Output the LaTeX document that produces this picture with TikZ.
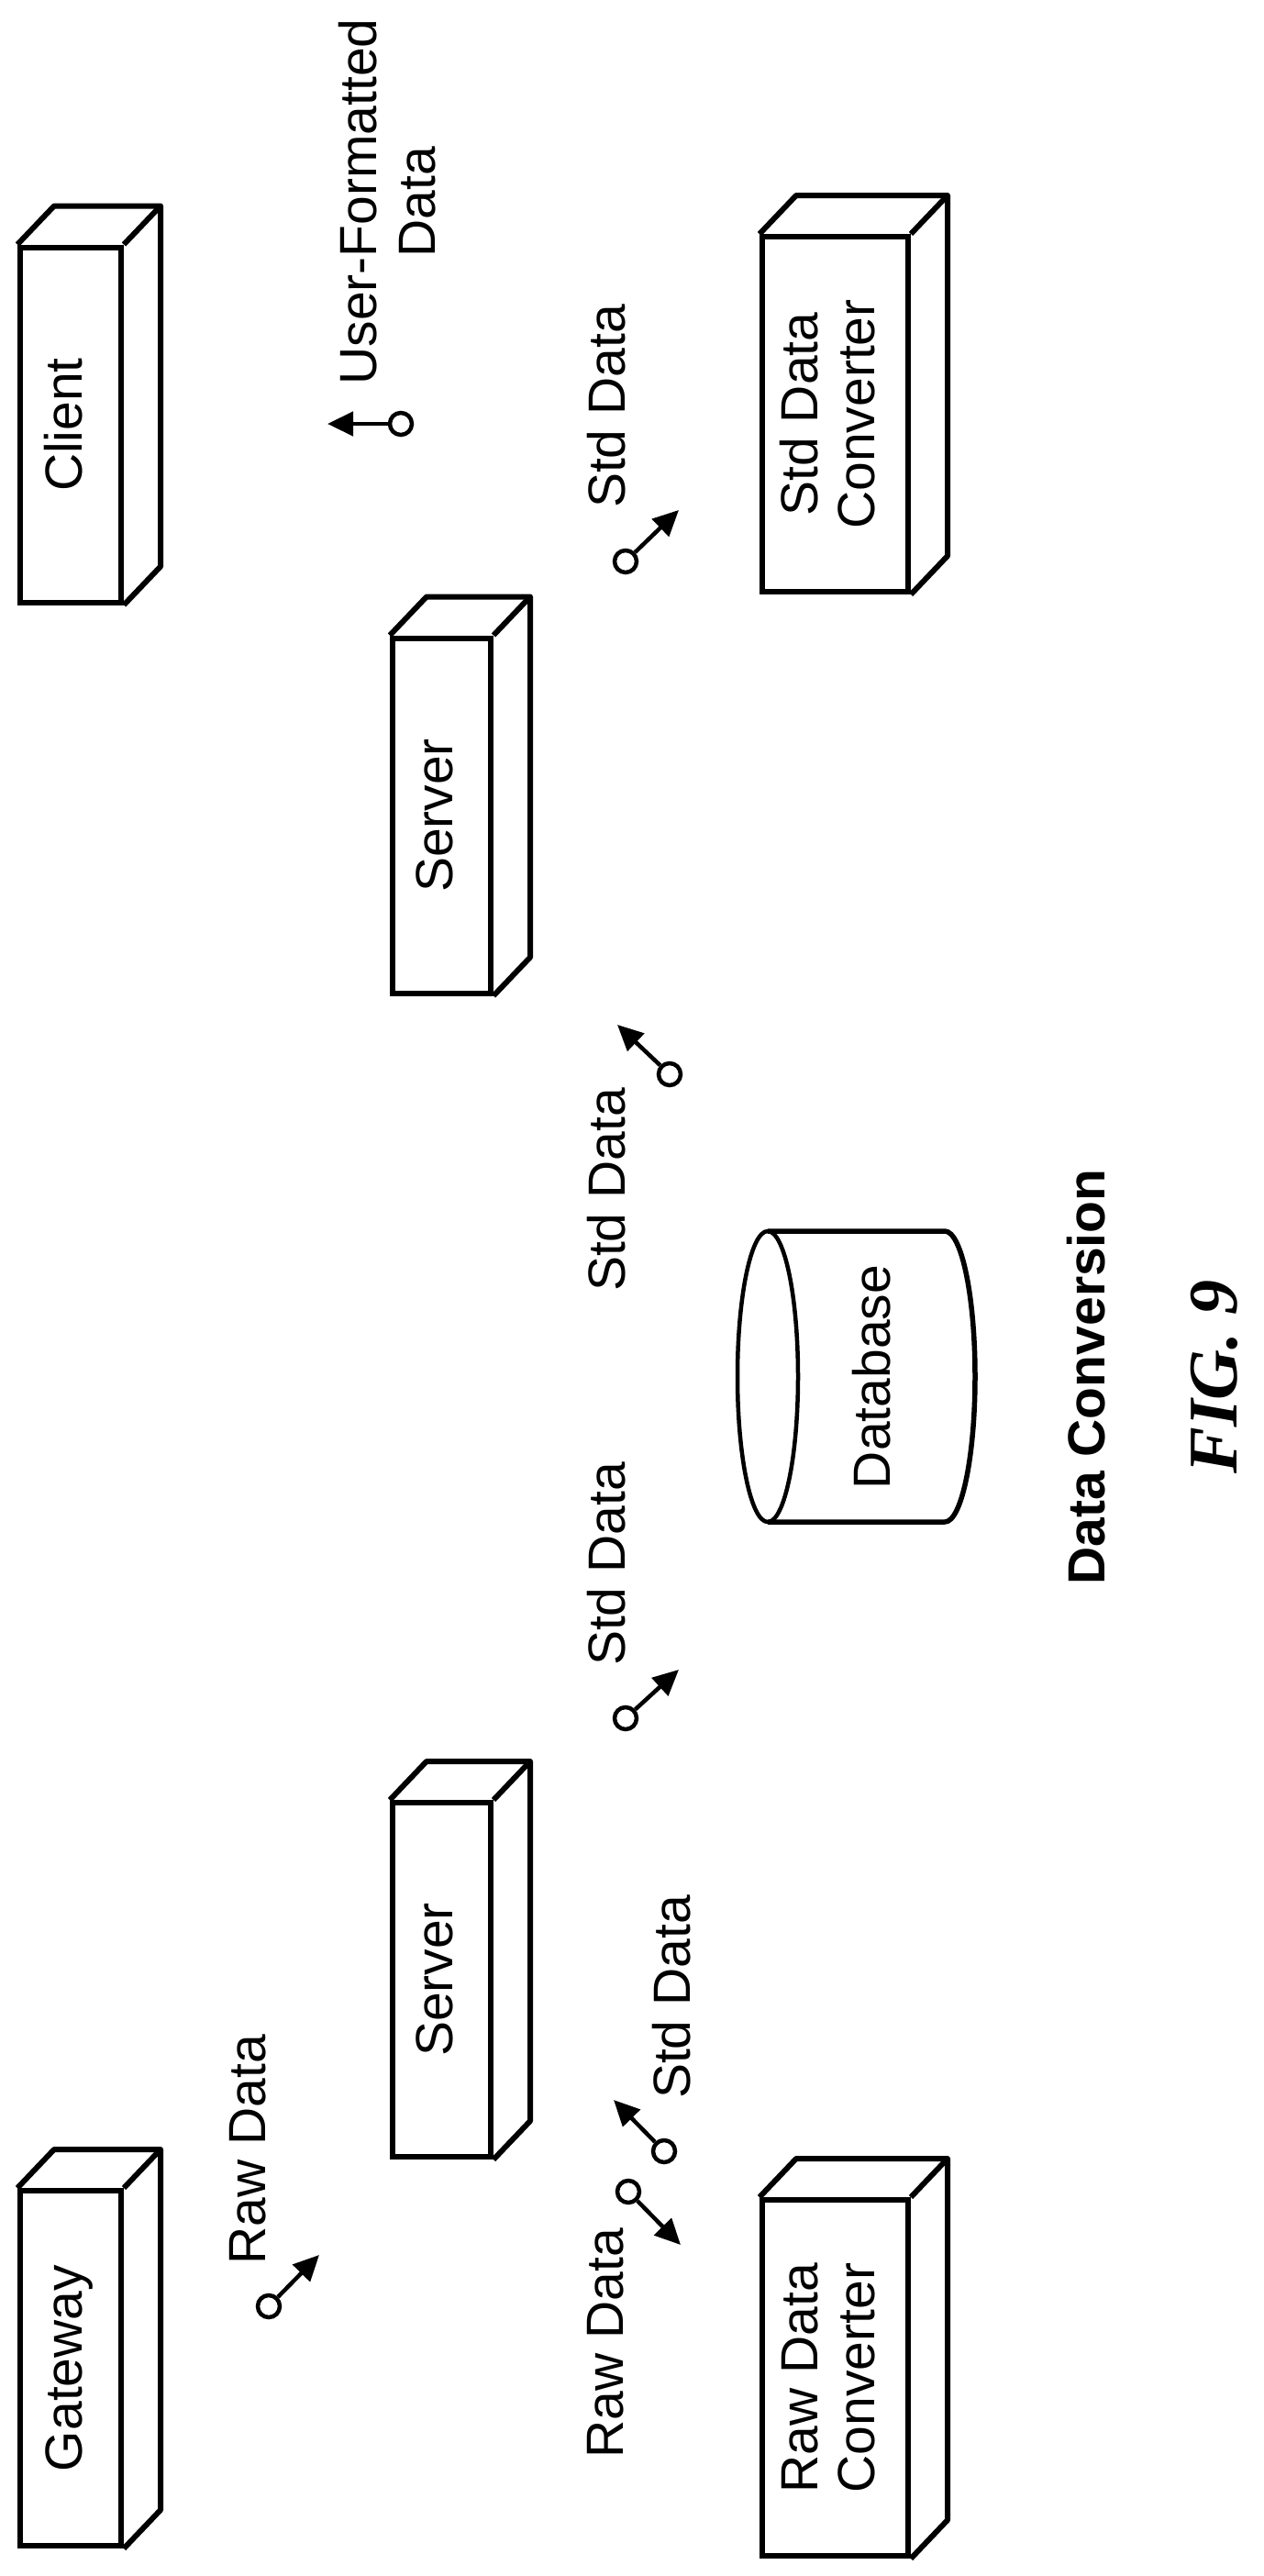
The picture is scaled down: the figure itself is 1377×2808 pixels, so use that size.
\documentclass[tikz,border=0pt]{standalone}
\usepackage{fontspec}
\usepackage{graphicx}
\setmainfont{Liberation Sans}
\newfontfamily\figfont{Liberation Serif}
\usetikzlibrary{calc,arrows.meta}
\tikzset{
  box/.style={draw,line width=6pt,fill=white,inner sep=0pt,font=\fontsize{57}{62}\selectfont},
  side/.style={draw,line width=6pt,line join=round},
  port/.style={circle,draw,line width=4.5pt,minimum size=24pt,inner sep=0pt},
  conn/.style={line width=4.5pt,-{Triangle[length=28pt,width=26pt]}},
  lbl/.style={inner sep=0pt,font=\fontsize{57}{64}\selectfont},
}
\newcommand{\threed}[1]{%
  \draw[side] (#1.north west) -- ++(40,-42) -- ($(#1.north east)+(40,-42)$) -- ($(#1.south east)+(40,-42)$) -- (#1.south east);
  \draw[side] (#1.north east) -- ++(40,-42);}
\newcommand{\rt}[1]{\rotatebox{90}{\begin{tabular}{@{}c@{}}#1\end{tabular}}}
\begin{document}
\begin{tikzpicture}[x=1pt,y=-1pt]
\useasboundingbox (0,0) rectangle (1377,2808);
% boxes
\node[box,minimum width=110pt,minimum height=387pt] (client) at (77,463) {\rt{Client}};
\node[box,minimum width=107pt,minimum height=387pt] (server1) at (481.5,889) {\rt{Server}};
\node[box,minimum width=107pt,minimum height=386pt] (server2) at (481.5,2158) {\rt{Server}};
\node[box,minimum width=110pt,minimum height=387pt] (gateway) at (77,2581.5) {\rt{Gateway}};
\node[box,minimum width=159pt,minimum height=387pt] (stdconv) at (910.5,451.5) {\rt{Std Data\\Converter}};
\node[box,minimum width=159pt,minimum height=388pt] (rawconv) at (910.5,2592) {\rt{Raw Data\\Converter}};
\foreach \n in {client,server1,server2,gateway,stdconv,rawconv} {\threed{\n}}
% database
\draw[line width=5.5pt,line join=round] (837,1342) -- (1030,1342) arc[start angle=-90,end angle=90,x radius=33,y radius=158.5] -- (837,1659);
\draw[line width=4.5pt] (837,1500.5) ellipse[x radius=33,y radius=158.5];
\node[lbl] (db) at (958,1501) {\rt{Database}};
% ports and arrows
\node[port] (p1) at (437,462) {}; \coordinate (t1) at (357,462);
\node[port] (p2) at (682,612) {}; \coordinate (t2) at (740,556);
\node[port] (p3) at (730,1171) {}; \coordinate (t3) at (673,1117);
\node[port] (p4) at (682,1873) {}; \coordinate (t4) at (740,1820);
\node[port] (p5) at (724,2345) {}; \coordinate (t5) at (669,2289);
\node[port] (p6) at (685,2389) {}; \coordinate (t6) at (742,2447);
\node[port] (p7) at (293,2514) {}; \coordinate (t7) at (348,2458);
\foreach \i in {1,...,7} {\draw[conn] (p\i) -- (t\i);}
% labels
\node[lbl] (l1) at (430,220) {\rt{User-Formatted\\Data}};
\node[lbl] (l2) at (669,443) {\rt{Std Data}};
\node[lbl] (l3) at (669,1297) {\rt{Std Data}};
\node[lbl] (l4) at (669,1705) {\rt{Std Data}};
\node[lbl] (l5) at (740,2177) {\rt{Std Data}};
\node[lbl] (l6) at (667,2554) {\rt{Raw Data}};
\node[lbl] (l7) at (277,2343) {\rt{Raw Data}};
\node[lbl,font=\fontsize{57}{64}\selectfont\bfseries] (title) at (1192,1501) {\rt{Data Conversion}};
\node[lbl,font=\fontsize{76}{80}\figfont\bfseries\itshape] (fig) at (1332,1501) {\rt{FIG. 9}};
\end{tikzpicture}
\end{document}
